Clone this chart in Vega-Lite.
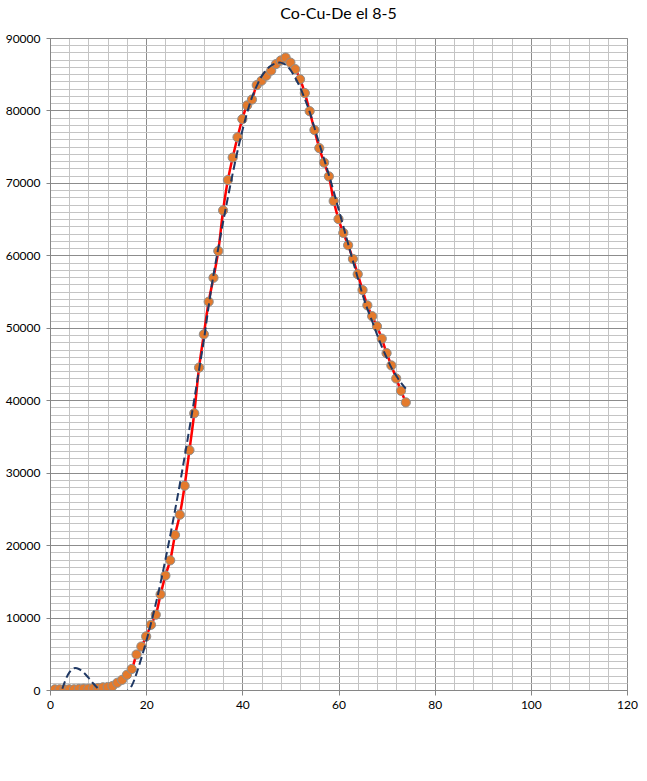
{
  "$schema": "https://vega.github.io/schema/vega-lite/v6.json",
  "width": 577,
  "height": 652,
  "autosize": {"type": "none"},
  "padding": {"left": 50, "top": 38, "right": 20, "bottom": 91},
  "background": "#ffffff",
  "title": {"text": "Co-Cu-De el 8-5", "font": "Lato", "fontSize": 16, "fontWeight": "normal", "color": "#000000", "anchor": "middle", "offset": 10},
  "config": {"view": {"stroke": "#868686", "strokeWidth": 1}},
  "datasets": {
    "pts": [
      {"x": 1, "y": 100}, {"x": 2, "y": 100}, {"x": 3, "y": 100}, {"x": 4, "y": 100}, {"x": 5, "y": 100},
      {"x": 6, "y": 150}, {"x": 7, "y": 180}, {"x": 8, "y": 180}, {"x": 9, "y": 230}, {"x": 10, "y": 280},
      {"x": 11, "y": 370}, {"x": 12, "y": 410}, {"x": 13, "y": 550}, {"x": 14, "y": 1000}, {"x": 15, "y": 1400},
      {"x": 16, "y": 2100}, {"x": 17, "y": 2900}, {"x": 18, "y": 4900}, {"x": 19, "y": 6000}, {"x": 20, "y": 7400},
      {"x": 21, "y": 9000}, {"x": 22, "y": 10400}, {"x": 23, "y": 13200}, {"x": 24, "y": 15800}, {"x": 25, "y": 17900},
      {"x": 26, "y": 21400}, {"x": 27, "y": 24200}, {"x": 28, "y": 28200}, {"x": 29, "y": 33100}, {"x": 30, "y": 38200},
      {"x": 31, "y": 44500}, {"x": 32, "y": 49100}, {"x": 33, "y": 53600}, {"x": 34, "y": 56900}, {"x": 35, "y": 60600},
      {"x": 36, "y": 66200}, {"x": 37, "y": 70400}, {"x": 38, "y": 73500}, {"x": 39, "y": 76300}, {"x": 40, "y": 78800},
      {"x": 41, "y": 80700}, {"x": 42, "y": 81500}, {"x": 43, "y": 83500}, {"x": 44, "y": 84100}, {"x": 45, "y": 84800},
      {"x": 46, "y": 85500}, {"x": 47, "y": 86400}, {"x": 48, "y": 86900}, {"x": 49, "y": 87300}, {"x": 50, "y": 86600},
      {"x": 51, "y": 85700}, {"x": 52, "y": 84300}, {"x": 53, "y": 82400}, {"x": 54, "y": 79900}, {"x": 55, "y": 77300},
      {"x": 56, "y": 74800}, {"x": 57, "y": 72800}, {"x": 58, "y": 70900}, {"x": 59, "y": 67500}, {"x": 60, "y": 65000},
      {"x": 61, "y": 63100}, {"x": 62, "y": 61400}, {"x": 63, "y": 59500}, {"x": 64, "y": 57400}, {"x": 65, "y": 55200},
      {"x": 66, "y": 53100}, {"x": 67, "y": 51600}, {"x": 68, "y": 50200}, {"x": 69, "y": 48500}, {"x": 70, "y": 46500},
      {"x": 71, "y": 44800}, {"x": 72, "y": 43000}, {"x": 73, "y": 41300}, {"x": 74, "y": 39700}
    ],
    "trend": [
      {"x": 1, "y": -3000}, {"x": 2, "y": -1000}, {"x": 3, "y": 1000}, {"x": 4, "y": 2400}, {"x": 5, "y": 3000},
      {"x": 6, "y": 2900}, {"x": 7, "y": 2400}, {"x": 8, "y": 1700}, {"x": 9, "y": 900}, {"x": 10, "y": 200},
      {"x": 11, "y": -400}, {"x": 12, "y": -800}, {"x": 13, "y": -1000}, {"x": 14, "y": -1000}, {"x": 15, "y": -700},
      {"x": 16, "y": -200}, {"x": 17, "y": 600}, {"x": 18, "y": 2300}, {"x": 19, "y": 4400}, {"x": 20, "y": 6700},
      {"x": 21, "y": 9200}, {"x": 22, "y": 11900}, {"x": 23, "y": 14800}, {"x": 24, "y": 18000}, {"x": 25, "y": 21300},
      {"x": 26, "y": 24800}, {"x": 27, "y": 28400}, {"x": 28, "y": 32200}, {"x": 29, "y": 36100}, {"x": 30, "y": 40100},
      {"x": 31, "y": 44200}, {"x": 32, "y": 48300}, {"x": 33, "y": 53000}, {"x": 34, "y": 57300}, {"x": 35, "y": 61000},
      {"x": 36, "y": 64600}, {"x": 37, "y": 68000}, {"x": 38, "y": 71300}, {"x": 39, "y": 74400}, {"x": 40, "y": 77200},
      {"x": 41, "y": 79700}, {"x": 42, "y": 81800}, {"x": 43, "y": 83400}, {"x": 44, "y": 84700}, {"x": 45, "y": 85600},
      {"x": 46, "y": 86200}, {"x": 47, "y": 86500}, {"x": 48, "y": 86600}, {"x": 49, "y": 86300}, {"x": 50, "y": 85600},
      {"x": 51, "y": 84500}, {"x": 52, "y": 83200}, {"x": 53, "y": 81600}, {"x": 54, "y": 79800}, {"x": 55, "y": 77600},
      {"x": 56, "y": 75400}, {"x": 57, "y": 73300}, {"x": 58, "y": 71100}, {"x": 59, "y": 68800}, {"x": 60, "y": 66400},
      {"x": 61, "y": 64000}, {"x": 62, "y": 61600}, {"x": 63, "y": 59200}, {"x": 64, "y": 56900}, {"x": 65, "y": 54600},
      {"x": 66, "y": 52600}, {"x": 67, "y": 50900}, {"x": 68, "y": 49100}, {"x": 69, "y": 47400}, {"x": 70, "y": 45900},
      {"x": 71, "y": 44500}, {"x": 72, "y": 43400}, {"x": 73, "y": 42400}, {"x": 74, "y": 41600}
    ]
  },
  "encoding": {
    "x": {
      "field": "x", "type": "quantitative",
      "scale": {"domain": [0, 120], "nice": false, "zero": false},
      "axis": {
        "title": null,
        "values": [0, 4, 8, 12, 16, 20, 24, 28, 32, 36, 40, 44, 48, 52, 56, 60, 64, 68, 72, 76, 80, 84, 88, 92, 96, 100, 104, 108, 112, 116, 120],
        "format": "d",
        "labelExpr": "datum.value % 20 === 0 ? datum.label : ''",
        "labelOverlap": false,
        "labelFlush": false,
        "labelFont": "Lato", "labelFontSize": 12, "labelColor": "#000000", "labelPadding": 4,
        "domainColor": "#868686",
        "grid": true,
        "gridColor": {"condition": {"test": "datum.value % 20 === 0", "value": "#8c8c8c"}, "value": "#c4c4c4"},
        "gridWidth": 1,
        "tickColor": "#868686", "tickSize": 5,
        "tickOpacity": {"condition": {"test": "datum.value % 20 === 0", "value": 1}, "value": 0}
      }
    },
    "y": {
      "field": "y", "type": "quantitative",
      "scale": {"domain": [0, 90000], "nice": false, "zero": false},
      "axis": {
        "title": null,
        "values": [0, 1000, 2000, 3000, 4000, 5000, 6000, 7000, 8000, 9000, 10000, 11000, 12000, 13000, 14000, 15000, 16000, 17000, 18000, 19000, 20000, 21000, 22000, 23000, 24000, 25000, 26000, 27000, 28000, 29000, 30000, 31000, 32000, 33000, 34000, 35000, 36000, 37000, 38000, 39000, 40000, 41000, 42000, 43000, 44000, 45000, 46000, 47000, 48000, 49000, 50000, 51000, 52000, 53000, 54000, 55000, 56000, 57000, 58000, 59000, 60000, 61000, 62000, 63000, 64000, 65000, 66000, 67000, 68000, 69000, 70000, 71000, 72000, 73000, 74000, 75000, 76000, 77000, 78000, 79000, 80000, 81000, 82000, 83000, 84000, 85000, 86000, 87000, 88000, 89000, 90000],
        "format": "d",
        "labelExpr": "datum.value % 10000 === 0 ? datum.label : ''",
        "labelOverlap": false,
        "labelFlush": false,
        "labelFont": "Lato", "labelFontSize": 12, "labelColor": "#000000", "labelPadding": 6,
        "domainColor": "#868686",
        "grid": true,
        "gridColor": {"condition": {"test": "datum.value % 10000 === 0", "value": "#8c8c8c"}, "value": "#c4c4c4"},
        "gridWidth": 1,
        "tickColor": "#868686", "tickSize": 4,
        "tickOpacity": {"condition": {"test": "datum.value % 10000 === 0", "value": 1}, "value": 0}
      }
    }
  },
  "layer": [
    {
      "data": {"name": "pts"},
      "mark": {"type": "line", "color": "#ff0000", "strokeWidth": 2.5, "interpolate": "catmull-rom", "clip": true}
    },
    {
      "data": {"name": "pts"},
      "mark": {"type": "point", "shape": "circle", "filled": true, "fill": "#e47a2c", "stroke": "#8e8e8e", "strokeWidth": 1, "size": 85, "opacity": 1, "clip": true}
    },
    {
      "data": {"name": "trend"},
      "mark": {"type": "line", "color": "#1f3864", "strokeWidth": 2, "strokeDash": [8, 4], "interpolate": "catmull-rom", "clip": true}
    }
  ]
}
